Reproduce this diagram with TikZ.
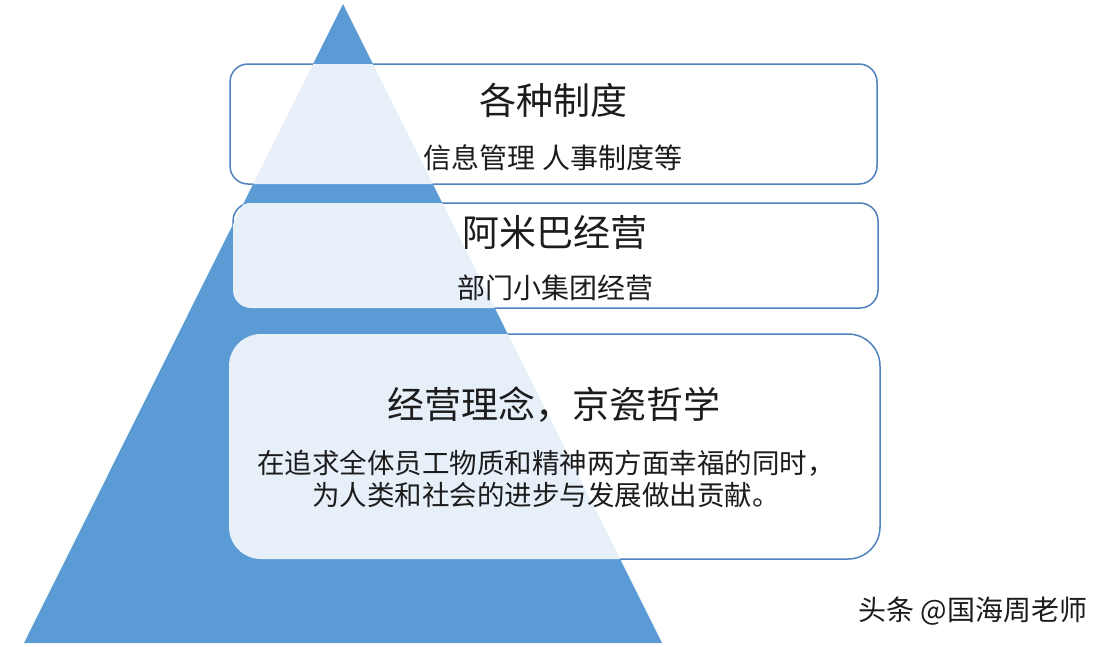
\documentclass[tikz,border=0pt]{standalone}
\usepackage{fontspec}
\setmainfont{Noto Sans CJK SC}
\usepackage{tikz}
\usetikzlibrary{positioning}
\definecolor{pyrblue}{RGB}{91,155,213}
\definecolor{boxline}{RGB}{79,129,189}
\definecolor{inktext}{RGB}{28,28,28}

\begin{document}
\begin{tikzpicture}[x=1pt,y=-1pt,
	boxedge/.style={draw=boxline,line width=1.5pt},
	boxfill/.style={fill=white,fill opacity=0.86},
	title/.style={font=\fontsize{37}{42}\selectfont,text=inktext},
	note/.style={font=\fontsize{28}{32}\selectfont,text=inktext,align=center}]
				\useasboundingbox (0,0) rectangle (1108,646);
				\fill[pyrblue] (343,4) -- (24,643) -- (662,643) -- cycle;
				\fill[boxfill, rounded corners=18pt] (230,64) rectangle (877,184);
				\fill[boxfill, rounded corners=18pt] (233,203) rectangle (878,308);
				\fill[boxfill, rounded corners=32pt] (229,334) rectangle (880,559);
				% edges only show outside the pyramid
				\begin{scope}[even odd rule]
				\clip (0,0) rectangle (1108,646) (343,4) -- (24,643) -- (662,643) -- cycle;
				\draw[boxedge, rounded corners=18pt] (230,64) rectangle (877,184);
				\draw[boxedge, rounded corners=18pt] (233,203) rectangle (878,308);
				\draw[boxedge, rounded corners=32pt] (229,334) rectangle (880,559);
				\end{scope}
				\node[title] (sysTitle) at (553,100) {各种制度};
				\node[note] (sysNote) at (553,158) {信息管理 人事制度等};
				\node[title] (amoebaTitle) at (555,232) {阿米巴经营};
				\node[note] (amoebaNote) at (555,288) {部门小集团经营};
				\node[title] (philoTitle) at (554,405) {经营理念，京瓷哲学};
				\node[note, font=\fontsize{27.5}{32}\selectfont] (philoNote) at (546,479) {在追求全体员工物质和精神两方面幸福的同时，\\为人类和社会的进步与发展做出贡献。};
				\node[note, anchor=east] (mark) at (1091,611) {头条 @国海周老师};
\end{tikzpicture}
\end{document}
